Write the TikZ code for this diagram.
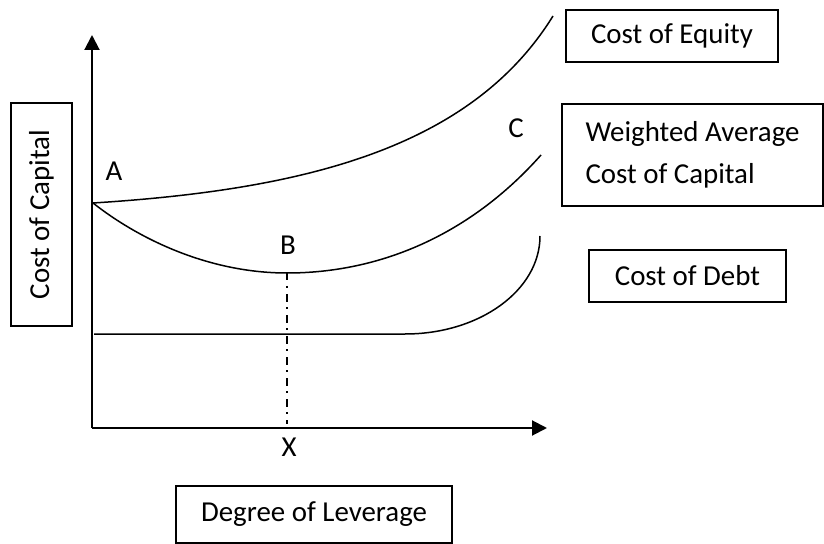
\documentclass[tikz,border=0pt]{standalone}
\usepackage{fontspec}
\setmainfont{Carlito}
\usetikzlibrary{arrows.meta}
\begin{document}
\begin{tikzpicture}[x=1bp,y=-1bp,
  every node/.style={font=\fontsize{29}{42}\selectfont},
  axis/.style={line width=2bp,-{Triangle[length=15bp,width=15bp]}},
  curve/.style={line width=1.5bp},
  labelbox/.style={draw,line width=2bp,inner sep=0pt,align=center},
  guide/.style={line width=1.6bp,dash pattern=on 7.5bp off 5.5bp on 2bp off 6bp}]
\useasboundingbox (0,0) rectangle (824,544);

% axes
\coordinate (O) at (92,428);
\coordinate (ytip) at (92,35);
\coordinate (xtip) at (547,428);
\draw[axis] (O) -- (ytip);
\draw[axis] (O) -- (xtip);

% key points of the curves
\coordinate (A) at (93,203);
\coordinate (B) at (287,273);
\coordinate (Xb) at (287,424);
\coordinate (eqEnd) at (553,16);
\coordinate (wEnd) at (541,155);
\coordinate (dStart) at (94,334);
\coordinate (dBend) at (405,334);
\coordinate (dEnd) at (540,236);

% cost of equity
\draw[curve] (A) .. controls (300,190) and (470,150) .. (eqEnd);
% weighted average cost of capital
\draw[curve] (A) .. controls (140,240) and (210,273) .. (B)
             .. controls (380,273) and (470,235) .. (wEnd);
% cost of debt
\draw[curve] (dStart) -- (dBend) .. controls (480,334) and (540,290) .. (dEnd);
% optimum leverage
\draw[guide] (B) -- (Xb);

% point labels
\node (lA) at (114,171) {A};
\node (lB) at (288,245) {B};
\node (lC) at (516,128) {C};
\node (lX) at (289,447) {X};

% legend boxes
\node[labelbox,rotate=90,minimum width=223bp,minimum height=61bp] (ylab) at (41.5,214.5) {Cost of Capital};
\node[labelbox,minimum width=212bp,minimum height=52bp] (eq) at (672,36) {Cost of Equity};
\node[labelbox,align=left,minimum width=261bp,minimum height=102bp] (wacc) at (692.5,155) {Weighted Average\\Cost of Capital};
\node[labelbox,minimum width=197bp,minimum height=52bp] (debt) at (687.5,276) {Cost of Debt};
\node[labelbox,minimum width=276bp,minimum height=57bp] (lev) at (314,514.5) {Degree of Leverage};
\end{tikzpicture}
\end{document}
